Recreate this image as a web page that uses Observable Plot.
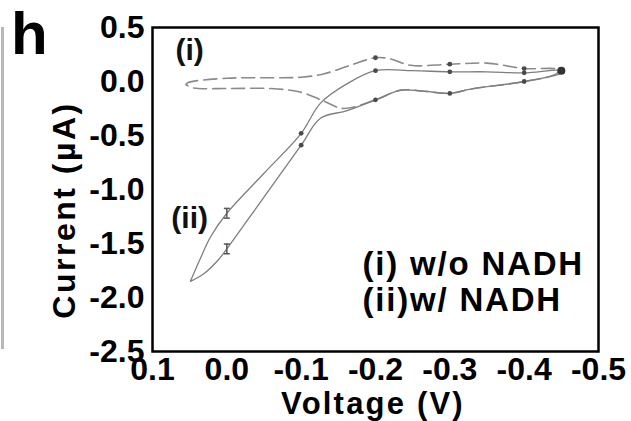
<!DOCTYPE html>
<html><head><meta charset="utf-8">
<script src="https://cdn.jsdelivr.net/npm/d3@7"></script>
<script src="https://cdn.jsdelivr.net/npm/@observablehq/plot@0.6"></script>
<style>
body{margin:0;background:#fff;}
#wrap{position:relative;width:631px;height:421px;font-family:"Liberation Sans",Arial,sans-serif;font-weight:bold;color:#000;overflow:hidden;}
#panel{position:absolute;left:11px;top:4px;font-size:60px;line-height:1;}
#ylab{position:absolute;left:64px;top:210px;transform:translate(-50%,-50%) rotate(-90deg);white-space:nowrap;font-size:32px;line-height:0.75;letter-spacing:2.5px;}
#xlab{position:absolute;left:373px;top:393px;transform:translateX(-50%);white-space:nowrap;font-size:31px;line-height:0.7;letter-spacing:2.2px;}
#edge{position:absolute;left:1px;top:27px;width:3px;height:322px;background:#b8b8b8;}
#chart{position:absolute;left:0;top:0;}
</style>
</head><body>
<div id="wrap">
  <div id="edge"></div>
  <div id="chart"></div>
  <div id="panel">h</div>
  <div id="ylab">Current (µA)</div>
  <div id="xlab">Voltage (V)</div>
</div>
<script>
// Axis ticks
const xTicks = [0.1, 0.0, -0.1, -0.2, -0.3, -0.4, -0.5];
const yTicks = [0.5, 0.0, -0.5, -1.0, -1.5, -2.0, -2.5];

// Curve (ii) w/ NADH — upper branch (tip -> -0.45 V)
const iiUpperV = [0.049, 0.035, 0.022, 0.0, -0.05, -0.1, -0.126, -0.162, -0.2, -0.25, -0.3, -0.35, -0.4, -0.45];
const iiUpperI = [-1.85, -1.63, -1.44, -1.22, -0.85, -0.48, -0.20, -0.02, 0.10, 0.10, 0.09, 0.09, 0.08, 0.10];
// Curve (ii) — lower branch (tip -> -0.45 V)
const iiLowerV = [0.049, 0.031, 0.0125, 0.0, -0.05, -0.1, -0.126, -0.162, -0.2, -0.234, -0.265, -0.3, -0.328, -0.382, -0.4, -0.431, -0.45];
const iiLowerI = [-1.85, -1.78, -1.66, -1.55, -1.07, -0.59, -0.34, -0.27, -0.17, -0.08, -0.09, -0.11, -0.07, -0.02, 0.0, 0.04, 0.08];

// Curve (i) w/o NADH — upper branch
const iUpperV = [0.055, 0.052, 0.0, -0.05, -0.1, -0.13, -0.166, -0.2, -0.22, -0.247, -0.3, -0.35, -0.4, -0.445];
const iUpperI = [-0.03, -0.01, 0.03, 0.035, 0.04, 0.07, 0.15, 0.22, 0.21, 0.15, 0.16, 0.17, 0.12, 0.11];
// Curve (i) — lower branch
const iLowerV = [0.055, 0.045, 0.0, -0.059, -0.1, -0.13, -0.157, -0.2, -0.234, -0.265, -0.3, -0.328, -0.382, -0.4, -0.431, -0.445];
const iLowerI = [-0.03, -0.06, -0.065, -0.065, -0.10, -0.18, -0.25, -0.17, -0.08, -0.09, -0.11, -0.07, -0.02, 0.0, 0.04, 0.08];

// Data-point markers and error bars
const markerV = [-0.1, -0.2, -0.3, -0.4];
const iMarkerV = [-0.2, -0.3, -0.4];
const errV = 0.0;
const errSize = [0.045, 0.045]; // upper, lower branch at 0.0 V

// Texts
const curveLabels = ["(i)", "(ii)"];
const curveLabelV = [0.05, 0.05];
const curveLabelI = [0.29, -1.27];
const legendLines = ["(i) w/o NADH", "(ii)w/ NADH"];

const zip = (V, I) => V.map((v, k) => ({V: v, I: I[k]}));
const loop = (uV, uI, lV, lI) => [...zip(uV, uI), ...zip(lV, lI).reverse()];
const iiPath = loop(iiUpperV, iiUpperI, iiLowerV, iiLowerI);
const iPath = loop(iUpperV, iUpperI, iLowerV, iLowerI);
const pick = (V, I, vs) => vs.map(v => ({V: v, I: I[V.indexOf(v)]}));
const markers = [
  ...pick(iiUpperV, iiUpperI, markerV),
  ...pick(iiLowerV, iiLowerI, markerV),
  ...pick(iUpperV, iUpperI, iMarkerV)
];
const endPoint = [{V: iiUpperV[iiUpperV.length - 1], I: iiUpperI[iiUpperI.length - 1]}];
const errRows = [
  {V: errV, I: iiUpperI[iiUpperV.indexOf(errV)], e: errSize[0]},
  {V: errV, I: iiLowerI[iiLowerV.indexOf(errV)], e: errSize[1]}
];
const caps = errRows.flatMap(d => [{V: d.V, I: d.I - d.e}, {V: d.V, I: d.I + d.e}]);
const labelRows = curveLabels.map((t, k) => ({t, V: curveLabelV[k], I: curveLabelI[k]}));

const hbar = {draw(ctx, size) { const r = Math.sqrt(size / Math.PI); ctx.moveTo(-r, 0); ctx.lineTo(r, 0); }};

const chart = Plot.plot({
  width: 631,
  height: 421,
  marginLeft: 152,
  marginRight: 33,
  marginTop: 27,
  marginBottom: 70,
  style: {fontFamily: "'Liberation Sans', Arial, sans-serif", fontWeight: "bold", fontSize: "32px", color: "#000", background: "transparent"},
  x: {domain: [0.1, -0.5], ticks: xTicks, tickFormat: d => d.toFixed(1), tickSize: 0, tickPadding: 6, label: null},
  y: {domain: [-2.5, 0.5], ticks: yTicks, tickFormat: d => d.toFixed(1), tickSize: 0, tickPadding: 8, label: null},
  marks: [
    Plot.line(iPath, {x: "V", y: "I", curve: "catmull-rom", stroke: "#8a8a8a", strokeWidth: 1.6, strokeDasharray: "13,6"}),
    Plot.line(iiPath, {x: "V", y: "I", curve: "catmull-rom", stroke: "#7e7e7e", strokeWidth: 1.3}),
    Plot.dot(markers, {x: "V", y: "I", r: 2.4, fill: "#4a4a4a"}),
    Plot.dot(endPoint, {x: "V", y: "I", r: 4, fill: "#333"}),
    Plot.ruleX(errRows, {x: "V", y1: d => d.I - d.e, y2: d => d.I + d.e, stroke: "#555", strokeWidth: 1.5}),
    Plot.dot(caps, {x: "V", y: "I", symbol: hbar, r: 3, fill: "none", stroke: "#555", strokeWidth: 1.5}),
    Plot.text(labelRows, {x: "V", y: "I", text: "t", fontSize: 30, fontWeight: "bold", fill: "#111"}),
    Plot.text([legendLines.join("\n")], {frameAnchor: "bottom-left", textAnchor: "start", lineAnchor: "middle", dx: 210, dy: -70, lineHeight: 1.1, fontSize: 33, fontWeight: "bold", fill: "#000"}),
    Plot.frame({stroke: "#000", strokeWidth: 2.5})
  ]
});
// widen the legend lines slightly, as in the reference
d3.select(chart).selectAll("text").filter(function() { return this.textContent.includes("NADH"); })
  .style("letter-spacing", "1.8px");
document.getElementById("chart").appendChild(chart);
</script>
</body></html>
